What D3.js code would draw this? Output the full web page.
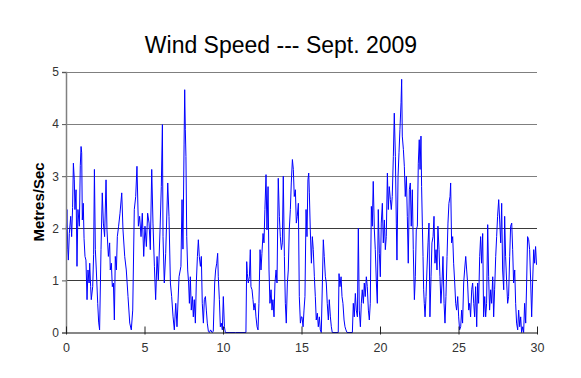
<!DOCTYPE html>
<html>
<head>
<meta charset="utf-8">
<script src="https://cdn.jsdelivr.net/npm/d3@7"></script>
<style>
  html, body { margin: 0; padding: 0; background: #fff; }
  svg { display: block; }
</style>
</head>
<body>
<svg id="chart" width="581" height="378"></svg>
<script>
// ---- Data: [day of month, wind speed m/s] ----
const week1 = [
  [0.02,2.0],[0.06,2.36],[0.11,1.6],[0.15,1.39],[0.21,1.9],[0.30,2.23],[0.36,1.84],[0.42,2.4],[0.47,3.25],[0.53,2.93],
  [0.57,2.36],[0.64,2.74],[0.70,1.27],[0.76,2.36],[0.85,2.04],[0.91,3.2],[0.96,3.57],[1.00,3.45],[1.04,2.16],[1.10,2.48],
  [1.15,1.8],[1.21,1.46],[1.27,1.39],[1.34,0.63],[1.40,1.2],[1.47,0.95],[1.51,1.33],[1.57,0.88],[1.61,0.63],[1.70,0.88],
  [1.76,1.5],[1.81,3.13],[1.87,1.59],[1.93,1.2],[2.02,0.56],[2.08,0.2],[2.14,0.05],[2.23,1.59],[2.31,2.68],[2.38,2.1],
  [2.46,1.84],[2.55,2.93],[2.61,1.97],[2.70,1.46],[2.78,1.72],[2.82,1.2],[2.89,1.33],[2.95,0.88],[3.02,0.95],[3.08,0.24],
  [3.14,1.46],[3.21,1.2],[3.27,1.84],[3.35,2.04],[3.44,2.29],[3.55,2.68],[3.63,1.97],[3.74,1.46],[3.84,1.2],[3.95,0.69],
  [4.06,0.18],[4.16,0.05],[4.25,0.43],[4.35,2.36],[4.44,2.61],[4.52,3.19],[4.61,2.04],[4.69,2.23],[4.78,1.84],[4.86,2.29],
  [4.95,1.46],[5.03,2.04],[5.12,1.65],[5.20,2.29],[5.29,2.1],[5.37,1.59],[5.46,3.13],[5.54,2.1],[5.63,1.27],[5.71,0.63],
  [5.80,1.46],[5.88,1.01],[5.99,1.97],[6.07,2.8],[6.14,3.99],[6.18,1.84],[6.26,0.95],[6.35,1.52],[6.48,2.87],[6.56,2.23],
  [6.65,0.95],[6.73,0.69],[6.82,0.3],[6.90,0.05],[6.99,0.56],[7.07,0.11],[7.20,1.07],[7.32,1.27]
];
const week2 = [
  [7.39,2.55],[7.45,1.6],[7.52,3.6],[7.56,4.66],[7.60,3.9],[7.64,3.38],[7.69,1.84],[7.75,1.2],[7.81,0.95],[7.86,0.56],
  [7.92,1.07],[7.98,0.43],[8.05,0.69],[8.11,0.3],[8.17,0.63],[8.24,0.18],[8.30,0.95],[8.37,1.46],[8.43,1.78],[8.49,1.46],
  [8.56,1.27],[8.62,1.46],[8.68,0.56],[8.75,0.18],[8.81,0.63],[8.88,0.69],[8.94,0.43],[9.00,0.18],[9.07,0.02],[9.13,0],
  [9.21,0.05],[9.30,0],[9.38,0.02],[9.47,0.95],[9.53,1.2],[9.60,1.33],[9.66,1.52],[9.70,1.07],[9.77,0.63],[9.83,0.11],
  [9.89,0.18],[9.96,0.05],[10.02,0.69],[10.09,0.11],[10.15,0],[10.79,0],[11.46,0],[11.51,1.36],[11.55,1.13],[11.61,0.95],
  [11.68,1.07],[11.74,1.59],[11.78,0.88],[11.85,0.82],[11.91,0.63],[11.97,0.43],[12.04,0.56],[12.10,0.3],[12.17,0.11],[12.23,0.05],
  [12.29,0.56],[12.36,1.59],[12.42,1.2],[12.48,1.52],[12.55,1.9],[12.61,1.72],[12.67,2.36],[12.74,3.03],[12.80,1.97],[12.87,2.8],
  [12.93,1.2],[12.99,0.56],[13.06,0.82],[13.12,0.43],[13.18,0.63],[13.25,0.3],[13.31,0.95],[13.38,1.2],[13.44,0.95],[13.52,2.96],
  [13.59,2.23],[13.65,1.84],[13.72,1.59],[13.78,1.72],[13.84,3.0],[13.91,1.46],[13.97,0.56],[14.03,0.18],[14.10,0.95],[14.16,1.2],
  [14.22,1.97],[14.29,2.36],[14.35,2.87],[14.42,3.32],[14.48,3.13],[14.54,2.61],[14.61,2.74],[14.67,2.1],[14.73,2.23],[14.80,2.48],
  [14.86,0.69],[14.93,0.18],[14.99,0.3]
];
const week3 = [
  [15.03,0.3],[15.10,0.11],[15.16,0.43],[15.22,0.69],[15.29,2.36],[15.35,1.84],[15.41,2.93],[15.46,3.06],[15.50,2.68],[15.56,1.97],
  [15.63,1.33],[15.69,1.84],[15.75,1.59],[15.82,1.07],[15.88,0.69],[15.94,0.24],[16.01,0.37],[16.07,0.11],[16.14,0.3],[16.20,0.05],
  [16.26,0],[16.33,0.95],[16.39,1.78],[16.45,1.46],[16.52,1.07],[16.58,0.95],[16.64,0.56],[16.71,0.24],[16.77,0.63],[16.84,0.3],
  [16.90,0.11],[16.96,0],[17.34,0],[17.39,1.13],[17.45,0.88],[17.52,1.07],[17.58,0.69],[17.64,0.56],[17.71,0.24],[17.77,0.11],
  [17.83,0.05],[17.90,0],[18.24,0],[18.30,0.56],[18.36,0.3],[18.43,0.75],[18.49,0.43],[18.56,0.3],[18.62,2.0],[18.68,0.43],
  [18.75,0.11],[18.81,0.56],[18.87,0.82],[18.94,0.56],[19.00,0.95],[19.06,0.69],[19.13,1.07],[19.19,0.88],[19.26,0.43],[19.32,0.24],
  [19.38,0.56],[19.45,2.42],[19.51,2.04],[19.57,2.9],[19.64,1.97],[19.70,1.59],[19.77,0.95],[19.83,0.56],[19.89,2.36],[19.96,1.52],
  [20.02,1.07],[20.08,2.1],[20.15,2.48],[20.21,1.72],[20.28,2.16],[20.34,1.59],[20.40,1.84],[20.47,3.06],[20.53,2.36],[20.59,2.8],
  [20.66,2.55],[20.72,2.36],[20.78,2.61],[20.85,3.38],[20.91,4.21],[20.98,3.38],[21.04,2.1],[21.08,1.39],[21.15,3.0],[21.21,3.45],
  [21.27,3.9],[21.34,4.41],[21.38,4.86],[21.42,3.77],[21.49,3.51],[21.55,3.19],[21.61,2.61],[21.68,3.0],[21.74,2.23],[21.80,1.33],
  [21.87,2.74],[21.93,2.87],[21.99,2.04],[22.06,2.74],[22.12,1.59],[22.19,0.63],[22.25,1.07],[22.31,1.97],[22.38,2.04],[22.44,3.25],
  [22.50,3.7]
];
const week4 = [
  [22.55,3.13],[22.61,3.77],[22.65,2.8],[22.70,2.04],[22.74,1.46],[22.78,0.82],[22.82,0.56],[22.87,0.3],[22.93,0.69],[22.99,1.2],
  [23.06,1.72],[23.12,2.1],[23.18,0.3],[23.25,1.07],[23.31,1.72],[23.38,1.84],[23.44,2.23],[23.50,1.33],[23.57,1.59],[23.63,1.2],
  [23.69,2.04],[23.76,1.59],[23.82,1.07],[23.88,0.56],[23.95,0.95],[24.01,1.46],[24.08,0.56],[24.14,0.18],[24.20,0.69],[24.27,1.46],
  [24.33,2.1],[24.39,2.48],[24.46,2.61],[24.50,2.87],[24.56,1.72],[24.63,1.84],[24.69,1.33],[24.76,0.95],[24.82,0.56],[24.88,0.43],
  [24.95,0.69],[25.01,0.3],[25.07,0.05],[25.14,0.11],[25.20,0.43],[25.26,0.18],[25.33,0.95],[25.39,1.2],[25.46,1.46],[25.52,1.2],
  [25.58,0.95],[25.65,0.43],[25.71,0.56],[25.77,0.3],[25.84,0.82],[25.90,0.95],[25.97,0.56],[26.03,0.3],[26.09,0.88],[26.16,0.11],
  [26.22,0.95],[26.28,0.56],[26.35,1.46],[26.41,1.84],[26.47,1.33],[26.54,1.9],[26.60,0.3],[26.67,0.69],[26.73,0.3],[26.79,0.56],
  [26.86,2.07],[26.92,1.07],[26.98,0.43],[27.05,0.82],[27.11,0.56],[27.18,1.07],[27.24,0.3],[27.30,0.82],[27.37,1.46],[27.43,1.84],
  [27.49,2.23],[27.56,2.55],[27.62,2.16],[27.69,1.72],[27.75,2.48],[27.81,1.2],[27.88,0.82],[27.94,2.23],[28.00,1.46],[28.07,0.95],
  [28.13,0.56],[28.19,0.69],[28.26,1.46],[28.32,2.04],[28.39,2.1],[28.45,1.59],[28.51,0.95],[28.58,1.2],[28.64,0.56],[28.70,0.18],
  [28.77,0.05],[28.83,0.43],[28.90,0.11],[28.96,0.3],[29.02,0],[29.09,0.11],[29.15,0],[29.21,0.56],[29.28,0.18],[29.34,0.95],
  [29.40,1.84],[29.47,1.78],[29.53,1.59],[29.60,0.95],[29.66,0.3],[29.72,0.95],[29.79,1.59],[29.85,1.33],[29.91,1.65],[29.97,1.3]
];
const xTicks = [0, 5, 10, 15, 20, 25, 30];
const yTicks = [0, 1, 2, 3, 4, 5];
const titleText = "Wind Speed --- Sept. 2009";
const yLabelText = "Metres/Sec";

// ---- Drawing ----
const svg = d3.select("#chart");
const x = d3.scaleLinear().domain([0, 30]).range([66, 537]);
const y = d3.scaleLinear().domain([0, 5]).range([332.5, 72]);
const font = "Arial, 'Liberation Sans', Helvetica, sans-serif";

// gridlines
svg.append("g").selectAll("line")
  .data(yTicks.filter(t => t > 0))
  .join("line")
  .attr("x1", x(0)).attr("x2", x(30))
  .attr("y1", d => Math.round(y(d)) + 0.5).attr("y2", d => Math.round(y(d)) + 0.5)
  .attr("stroke", d => d >= 3 ? "#7f7f7f" : "#3a3a3a")
  .attr("stroke-width", 1.2);

// data line
const series = [].concat(week1, week2, week3, week4);
const line = d3.line().x(d => x(d[0])).y(d => y(d[1]));
svg.append("path")
  .datum(series)
  .attr("d", line)
  .attr("fill", "none")
  .attr("stroke", "#0000ff")
  .attr("stroke-width", 1)
  .attr("stroke-linejoin", "miter");

// y axis
const yAxis = d3.axisLeft(y).tickValues(yTicks).tickSize(4).tickPadding(3).tickFormat(d3.format("d"));
const gy = svg.append("g").attr("transform", "translate(66,0)").call(yAxis);
gy.select(".domain").attr("stroke", "#808080").attr("stroke-width", 1.5);
gy.selectAll(".tick line").attr("stroke", "#555");
gy.selectAll(".tick text").attr("font-family", font).attr("font-size", 12).attr("fill", "#333");

// x axis (ticks point up into the plot)
const xAxis = d3.axisBottom(x).tickValues(xTicks).tickSize(0).tickPadding(0).tickFormat(d3.format("d"));
const gx = svg.append("g").attr("transform", "translate(0,332.5)").call(xAxis);
gx.select(".domain").attr("stroke", "#111").attr("stroke-width", 1.2);
gx.selectAll(".tick line").attr("y1", -6).attr("y2", 2).attr("stroke", "#222");
gx.selectAll(".tick text").attr("font-family", font).attr("font-size", 12.5).attr("fill", "#333").attr("dy", "1.55em");

// title
svg.append("text")
  .attr("x", 281).attr("y", 52.5)
  .attr("text-anchor", "middle")
  .attr("font-family", font).attr("font-size", 23)
  .attr("fill", "#000")
  .text(titleText);

// y label
svg.append("text")
  .attr("transform", "translate(44,202) rotate(-90)")
  .attr("text-anchor", "middle")
  .attr("font-family", font).attr("font-size", 15).attr("font-weight", "bold")
  .attr("fill", "#000")
  .text(yLabelText);
</script>
</body>
</html>
